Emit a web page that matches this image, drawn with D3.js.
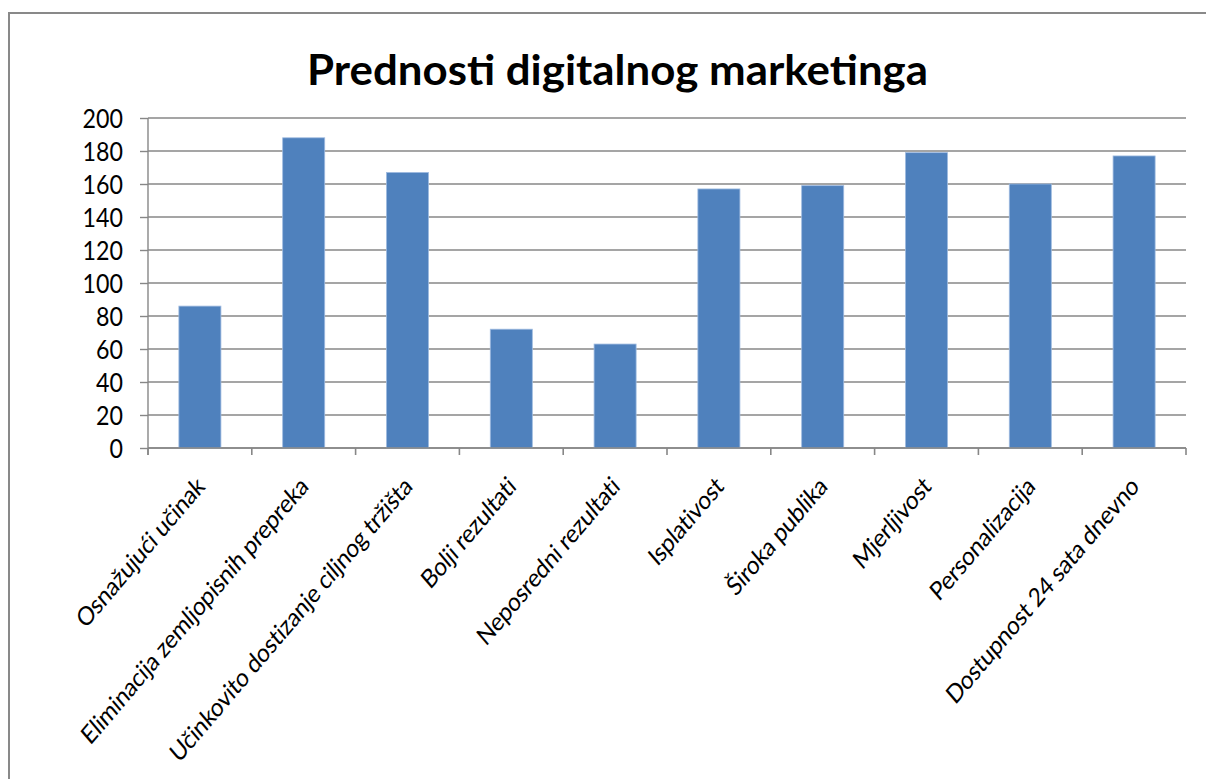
<!DOCTYPE html>
<html>
<head>
<meta charset="utf-8">
<script src="https://cdn.jsdelivr.net/npm/d3@7"></script>
<style>
    body { margin: 0; background: #fff; }
    svg { display: block; }
</style>
</head>
<body>
<div id="chart"></div>
<script>
// data
const categories = [
    "Osnažujući učinak",
    "Eliminacija zemljopisnih prepreka",
    "Učinkovito dostizanje ciljnog tržišta",
    "Bolji rezultati",
    "Neposredni rezultati",
    "Isplativost",
    "Široka publika",
    "Mjerljivost",
    "Personalizacija",
    "Dostupnost 24 sata dnevno"
];
const values = [86, 188, 167, 72, 63, 157, 159, 179, 160, 177];
const yTicks = [0, 20, 40, 60, 80, 100, 120, 140, 160, 180, 200];
const chartTitle = "Prednosti digitalnog marketinga";

class BarChart {
    constructor(_config) {
        this.config = {
            parentElement: _config.parentElement,
            width: _config.width || 1206,
            height: _config.height || 779,
            margin: _config.margin || { top: 118, right: 20, bottom: 331, left: 148 }
        };
        this.initVis();
    }

    initVis() {
        const vis = this;
        vis.width = 1186 - vis.config.margin.left;
        vis.height = 448 - vis.config.margin.top;

        vis.root = d3.select(vis.config.parentElement)
            .append("svg")
            .attr("width", vis.config.width)
            .attr("height", vis.config.height);

        // chart frame (runs off the right and bottom edge)
        vis.root.append("rect")
            .attr("x", 9)
            .attr("y", 13)
            .attr("width", 1217)
            .attr("height", 800)
            .attr("fill", "#fff")
            .attr("stroke", "#898989")
            .attr("stroke-width", 2);

        vis.root.append("text")
            .attr("x", 617.5)
            .attr("y", 85)
            .attr("text-anchor", "middle")
            .attr("font-family", "Lato, 'Open Sans', sans-serif")
            .attr("font-weight", "bold")
            .attr("font-size", 42)
            .attr("textLength", 621)
            .attr("lengthAdjust", "spacingAndGlyphs")
            .attr("fill", "#000")
            .text(chartTitle);

        vis.svg = vis.root.append("g")
            .attr("transform", `translate(${vis.config.margin.left},${vis.config.margin.top})`);

        vis.xScale = d3.scaleBand()
            .domain(categories)
            .range([0, vis.width])
            .padding(0);

        vis.yScale = d3.scaleLinear()
            .domain([0, 200])
            .range([vis.height, 0]);

        vis.updateVis();
    }

    updateVis() {
        const vis = this;
        const gridColor = "#878787";

        // gridlines
        vis.svg.append("g")
            .selectAll("line")
            .data(yTicks)
            .join("line")
            .attr("x1", 0)
            .attr("x2", vis.width)
            .attr("y1", d => vis.yScale(d))
            .attr("y2", d => vis.yScale(d))
            .attr("stroke", gridColor)
            .attr("stroke-width", 1.4);

        // y axis
        const yAxisG = vis.svg.append("g")
            .call(d3.axisLeft(vis.yScale).tickValues(yTicks).tickSize(8).tickSizeOuter(0));
        yAxisG.select(".domain").remove();
        yAxisG.selectAll("line").attr("stroke", gridColor).attr("stroke-width", 1.4);
        yAxisG.selectAll("text")
            .attr("x", null)
            .attr("dy", "0.36em")
            .attr("transform", "translate(-25,0) scale(0.86,1)")
            .attr("text-anchor", "end")
            .attr("font-family", "Lato, 'Open Sans', sans-serif")
            .attr("font-size", 27)
            .attr("fill", "#000");

        // left axis line
        vis.svg.append("line")
            .attr("x1", 0).attr("x2", 0)
            .attr("y1", 0).attr("y2", vis.height + 7)
            .attr("stroke", gridColor)
            .attr("stroke-width", 1.4);

        // bars
        const barW = vis.xScale.bandwidth() * 0.405;
        vis.svg.append("g")
            .selectAll("rect")
            .data(values)
            .join("rect")
            .attr("x", (d, i) => vis.xScale(categories[i]) + (vis.xScale.bandwidth() - barW) / 2)
            .attr("y", d => vis.yScale(d))
            .attr("width", barW)
            .attr("height", d => vis.height - vis.yScale(d))
            .attr("fill", "#4F81BD")
            .attr("stroke", "#9fbbe0")
            .attr("stroke-width", 0.8);

        // x axis with ticks at category boundaries
        const bounds = categories.map(c => vis.xScale(c)).concat([vis.width]);
        const xAxisG = vis.svg.append("g")
            .attr("transform", `translate(0,${vis.height})`);
        xAxisG.append("line")
            .attr("x1", 0).attr("x2", vis.width)
            .attr("stroke", gridColor)
            .attr("stroke-width", 1.6);
        xAxisG.selectAll(".tick")
            .data(bounds)
            .join("line")
            .attr("class", "tick")
            .attr("x1", d => d).attr("x2", d => d)
            .attr("y1", 0).attr("y2", 7)
            .attr("stroke", gridColor)
            .attr("stroke-width", 1.6);

        // rotated category labels
        xAxisG.selectAll(".lbl")
            .data(categories)
            .join("text")
            .attr("class", "lbl")
            .attr("transform", d => `translate(${vis.xScale(d) + vis.xScale.bandwidth() / 2 + 6},40) scale(0.85,1) rotate(-45)`)
            .attr("text-anchor", "end")
            .attr("font-family", "Lato, 'Open Sans', sans-serif")
            .attr("font-size", 26)
            .attr("letter-spacing", -0.3)
            .attr("fill", "#000")
            .text(d => d);
    }
}

const chart = new BarChart({ parentElement: "#chart" });
</script>
</body>
</html>
